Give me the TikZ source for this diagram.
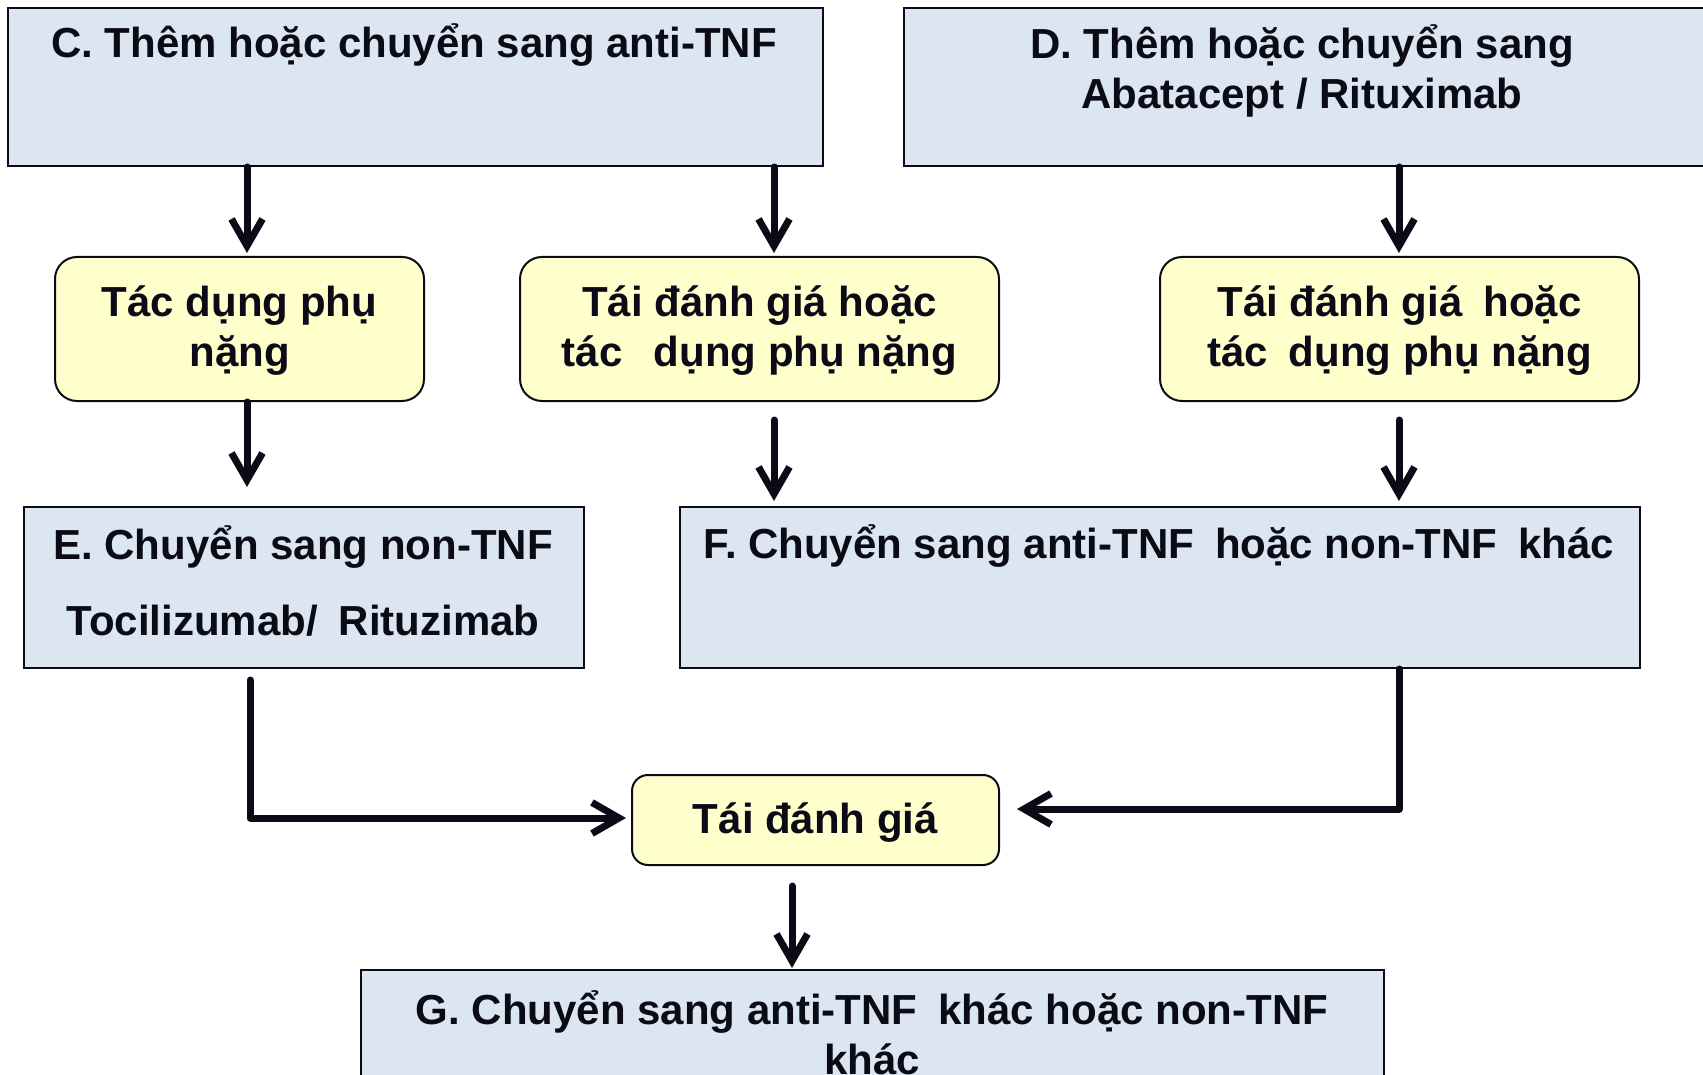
\documentclass[tikz,border=0pt]{standalone}
\usepackage{fontspec}
\setmainfont{Liberation Sans}
\usetikzlibrary{arrows.meta,calc}
\definecolor{boxblue}{HTML}{DCE6F1}
\definecolor{boxyellow}{HTML}{FFFFCC}
\definecolor{ink}{HTML}{0A0B16}
\begin{document}
\begin{tikzpicture}[x=1pt,y=-1pt,
  bluebox/.style={draw=ink, line width=2pt, fill=boxblue, inner sep=0pt},
  yellowbox/.style={draw=ink, line width=2pt, fill=boxyellow, rounded corners=22pt, inner sep=0pt},
  lbl/.style={text=ink, font=\fontsize{42}{50}\selectfont\bfseries, align=center, inner sep=0pt},
  arr/.style={draw=ink, line width=7pt, line join=round, line cap=round,
    -{Straight Barb[length=27pt,width=31pt]}}]
\useasboundingbox (0,0) rectangle (1703,1075);
\clip (0,0) rectangle (1703,1075);

% boxes
\node[bluebox, minimum width=815pt, minimum height=158pt] (C) at (415.5,87) {};
\node[bluebox, minimum width=800pt, minimum height=158pt] (D) at (1304,87) {};
\node[yellowbox, minimum width=369pt, minimum height=144pt] (Y1) at (239.5,329) {};
\node[yellowbox, minimum width=479pt, minimum height=144pt] (Y2) at (759.5,329) {};
\node[yellowbox, minimum width=479pt, minimum height=144pt] (Y3) at (1399.5,329) {};
\node[bluebox, minimum width=560pt, minimum height=161pt] (E) at (304,587.5) {};
\node[bluebox, minimum width=960pt, minimum height=161pt] (F) at (1160,587.5) {};
\node[yellowbox, rounded corners=16pt, minimum width=367pt, minimum height=90pt] (R) at (815.5,820) {};
\node[bluebox, minimum width=1023pt, minimum height=140pt] (G) at (872.5,1040) {};

% labels
\node[lbl] (tC) at (414,45) {C. Thêm hoặc chuyển sang anti-TNF};
\node[lbl] (tD) at (1302,70.5) {D. Thêm hoặc chuyển sang\\Abatacept / Rituximab};
\node[lbl] (tY1) at (239.5,330.5) {Tác dụng phụ\\nặng};
\node[lbl] (tY2) at (759.5,330.5) {Tái đánh giá hoặc\\tác\hspace{0.75em}dụng phụ nặng};
\node[lbl] (tY3) at (1399.5,330.5) {Tái đánh giá\hspace{0.5em}hoặc\\tác\hspace{0.5em}dụng phụ nặng};
\node[lbl] (tE) at (303,581) {E. Chuyển sang non-TNF\\[26pt]Tocilizumab/\hspace{0.5em}Rituzimab};
\node[lbl] (tF) at (1159,546) {F. Chuyển sang anti-TNF\hspace{0.5em}hoặc non-TNF\hspace{0.5em}khác};
\node[lbl] (tR) at (815.5,822.5) {Tái đánh giá};
\node[lbl] (tG) at (872,1033) {G. Chuyển sang anti-TNF\hspace{0.5em}khác hoặc non-TNF\\khác};

% connector anchor points
\coordinate (p1) at ($(Y1.north)+(7.5,-3)$);
\coordinate (p2) at ($(E.north)+(-57,-19)$);
\coordinate (p3) at ($(Y2.north)+(14.5,-3)$);
\coordinate (p4) at ($(Y2.south)+(14.5,18)$);
\coordinate (p5) at ($(F.north)+(-386,-5)$);
\coordinate (p6) at ($(Y3.north)+(-0.5,-3)$);
\coordinate (p7) at ($(Y3.south)+(-0.5,18)$);
\coordinate (p8) at ($(F.north)+(239,-5)$);
\coordinate (p9) at ($(E.south)+(-54,11)$);
\coordinate (p10) at ($(R.west)+(-5,-2)$);
\coordinate (p11) at ($(F.south)+(239,0)$);
\coordinate (p12) at ($(R.east)+(17,-11)$);
\coordinate (p13) at ($(R.south)+(-23.5,20)$);

% connectors
\draw[arr] (p1 |- C.south) -- (p1);
\draw[arr] (p1 |- Y1.south) -- (p2);
\draw[arr] (p3 |- C.south) -- (p3);
\draw[arr] (p4) -- (p5);
\draw[arr] (p6 |- D.south) -- (p6);
\draw[arr] (p7) -- (p8);
\draw[arr] (p9) |- (p10);
\draw[arr] (p11) |- (p12);
\draw[arr] (p13) -- ([yshift=1pt]p13 |- G.north);
\end{tikzpicture}
\end{document}
